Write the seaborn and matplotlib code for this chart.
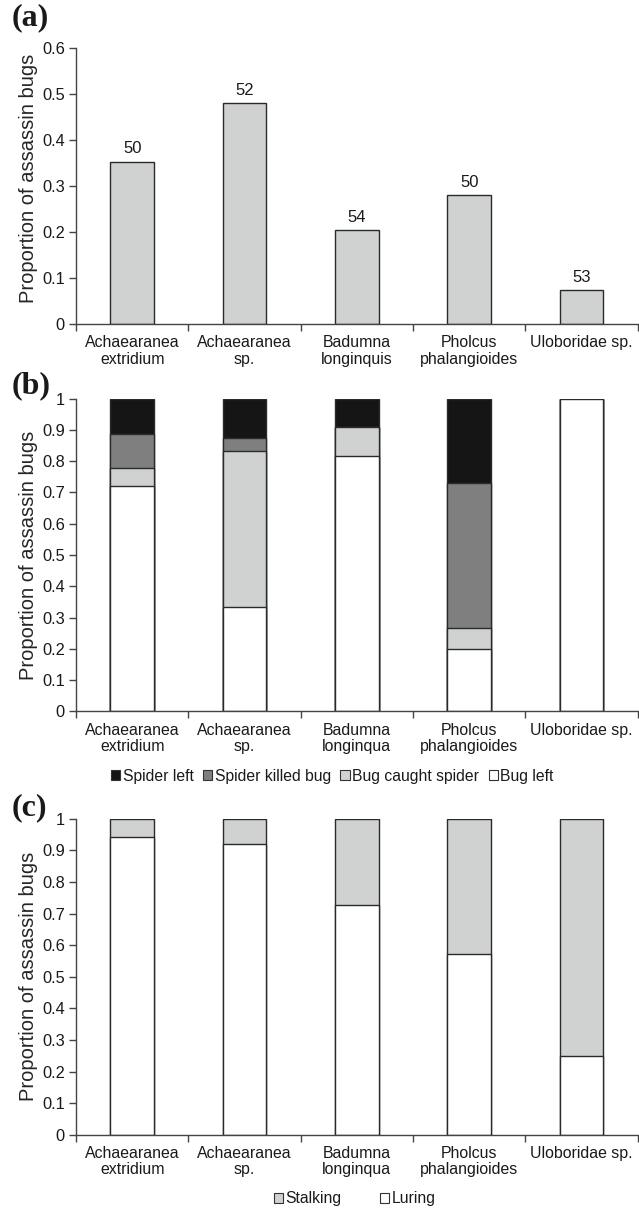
import matplotlib
matplotlib.use("Agg")
import matplotlib.pyplot as plt
from matplotlib.patches import Patch
from matplotlib.ticker import FuncFormatter, FixedLocator
import seaborn as sns
import pandas as pd
import numpy as np

# data
species_a = ["Achaearanea\nextridium", "Achaearanea\nsp.", "Badumna\nlonginquis",
             "Pholcus\nphalangioides", "Uloboridae sp."]
species_bc = ["Achaearanea\nextridium", "Achaearanea\nsp.", "Badumna\nlonginqua",
              "Pholcus\nphalangioides", "Uloboridae sp."]

prop_attacked = [0.353, 0.480, 0.204, 0.280, 0.074]
n_trials = [50, 52, 54, 50, 53]

bug_left = [0.722, 0.334, 0.818, 0.200, 1.0]
bug_caught_spider = [0.055, 0.499, 0.091, 0.067, 0.0]
spider_killed_bug = [0.110, 0.040, 0.0, 0.464, 0.0]
spider_left = [0.113, 0.127, 0.091, 0.269, 0.0]

luring = [0.942, 0.920, 0.727, 0.571, 0.250]
stalking = [0.058, 0.080, 0.273, 0.429, 0.750]

LIGHT = "#d0d2d1"
DARK = "#7f7f7f"
BLACK = "#151515"
WHITE = "#ffffff"
EDGE = "#2a2a2a"

sns.set_style("white")
plt.rcParams["font.family"] = ["Liberation Sans", "DejaVu Sans"]
plt.rcParams["font.size"] = 11
plt.rcParams["text.color"] = "#1a1a1a"

fig = plt.figure(figsize=(6.39, 12.10), dpi=100)
left, width = 0.119, 0.879
ax_a = fig.add_axes([left, 0.7320, width, 0.2281])
ax_b = fig.add_axes([left, 0.4120, width, 0.2586])
ax_c = fig.add_axes([left, 0.0620, width, 0.2614])

bar_kw = dict(width=0.39, edgecolor=EDGE, linewidth=1.0, saturation=1)


def style_axis(ax, labels, ymax, step):
    ax.set_xlim(-0.5, 4.5)
    ax.set_ylim(0, ymax)
    ax.set_yticks(np.round(np.arange(0, ymax + step / 2, step), 2))
    ax.yaxis.set_major_formatter(FuncFormatter(lambda v, p: "%g" % v))
    ax.set_xticks(range(len(labels)))
    ax.set_xticklabels(labels, linespacing=1.1)
    ax.xaxis.set_minor_locator(FixedLocator(np.arange(-0.5, 5, 1)))
    ax.tick_params(axis="x", which="major", length=0, pad=8, labelsize=11.4,
                   colors="#1a1a1a")
    ax.tick_params(axis="x", which="minor", length=5, width=1, direction="out",
                   color="#444444", bottom=True)
    ax.tick_params(axis="y", length=5, width=1, direction="out", pad=3,
                   labelsize=11.8, color="#444444", left=True, labelcolor="#1a1a1a")
    sns.despine(ax=ax, top=True, right=True)
    for s in ("left", "bottom"):
        ax.spines[s].set_color("#444444")
        ax.spines[s].set_linewidth(1.0)
    ax.set_xlabel("")
    ax.set_ylabel("Proportion of assassin bugs", fontsize=14.5)
    ax.yaxis.set_label_coords(-0.068, 0.5)
    ax.grid(False)


# (a)
df_a = pd.DataFrame({"species": species_a, "prop": prop_attacked})
sns.barplot(data=df_a, x="species", y="prop", color=LIGHT, ax=ax_a, **bar_kw)
for i, (v, n) in enumerate(zip(prop_attacked, n_trials)):
    ax_a.annotate(str(n), (i, v), xytext=(0, 4), textcoords="offset points",
                  ha="center", va="bottom", fontsize=12)
style_axis(ax_a, species_a, 0.6, 0.1)
ax_a.yaxis.set_label_coords(-0.068, 0.53)

# (b) stacked, drawn as overlapping cumulative bars
stack = np.array([bug_left, bug_caught_spider, spider_killed_bug, spider_left])
cum = np.cumsum(stack, axis=0)
for k, color in zip([3, 2, 1, 0], [BLACK, DARK, LIGHT, WHITE]):
    d = pd.DataFrame({"species": species_bc, "top": cum[k]})
    sns.barplot(data=d, x="species", y="top", color=color, ax=ax_b, **bar_kw)
style_axis(ax_b, species_bc, 1.0, 0.1)

# (c)
for vals, color in [(np.add(luring, stalking), LIGHT), (luring, WHITE)]:
    d = pd.DataFrame({"species": species_bc, "top": vals})
    sns.barplot(data=d, x="species", y="top", color=color, ax=ax_c, **bar_kw)
style_axis(ax_c, species_bc, 1.0, 0.1)


# legends
def sq(c):
    return Patch(facecolor=c, edgecolor="#333333", linewidth=0.8)


fig.legend([sq(BLACK), sq(DARK), sq(LIGHT), sq(WHITE)],
           ["Spider left", "Spider killed bug", "Bug caught spider", "Bug left"],
           loc="center", bbox_to_anchor=(0.52, 1 - 776 / 1210), ncol=4,
           frameon=False, fontsize=11.3, handlelength=0.6, handleheight=0.6,
           handletextpad=0.15, columnspacing=0.6, borderpad=0)
fig.legend([sq(LIGHT), sq(WHITE)], ["Stalking", "Luring"],
           loc="center", bbox_to_anchor=(0.555, 1 - 1199 / 1210), ncol=2,
           frameon=False, fontsize=11.3, handlelength=0.6, handleheight=0.6,
           handletextpad=0.15, columnspacing=2.4, borderpad=0)

# panel letters
for lab, ypix in [("(a)", 3), ("(b)", 371), ("(c)", 793)]:
    fig.text(12 / 639, 1 - ypix / 1210, lab, family=["Liberation Serif", "DejaVu Serif"],
             fontweight="bold", fontsize=23, ha="left", va="top")

fig.savefig("out.png", dpi=100)
